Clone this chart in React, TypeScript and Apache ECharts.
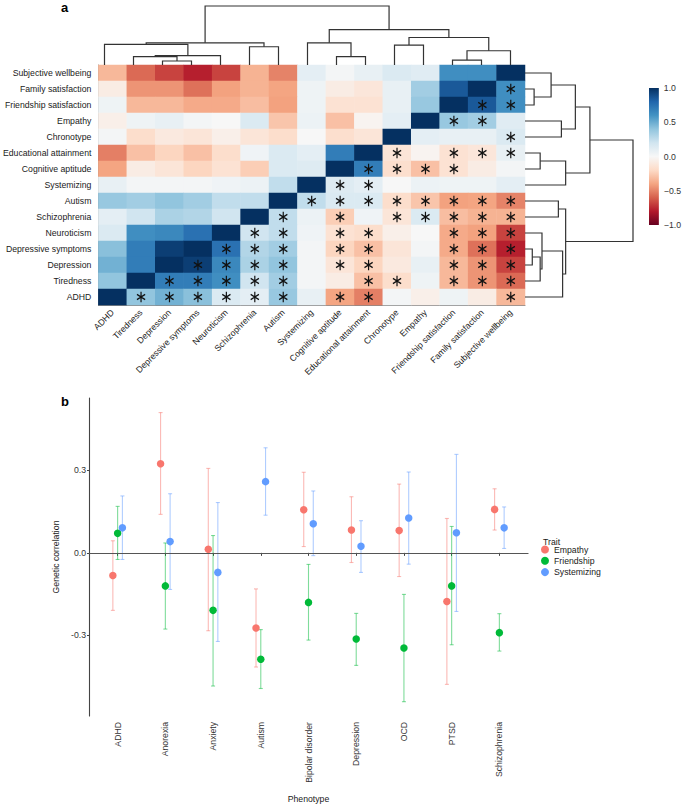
import React, { useEffect, useRef } from 'react';
import * as echarts from 'echarts';

// ---------- Panel a data ----------
const vars = [
  'ADHD', 'Tiredness', 'Depression', 'Depressive symptoms', 'Neuroticism', 'Schizophrenia', 'Autism',
  'Systemizing', 'Cognitive aptitude', 'Educational attainment', 'Chronotype', 'Empathy',
  'Friendship satisfaction', 'Family satisfaction', 'Subjective wellbeing',
];

// rows in display order (top = Subjective wellbeing ... bottom = ADHD); columns in `vars` order
const corrRows = [
  [-0.33, -0.57, -0.68, -0.78, -0.68, -0.35, -0.5, 0.1, 0.02, 0.08, 0.15, 0.12, 0.62, 0.62, 1],
  [-0.08, -0.45, -0.45, -0.55, -0.41, -0.35, -0.4, 0.05, -0.08, -0.12, 0.08, 0.35, 0.85, 1, 0.62],
  [0.05, -0.33, -0.33, -0.38, -0.38, -0.31, -0.41, 0.05, -0.15, -0.15, 0.08, 0.38, 1, 0.85, 0.62],
  [-0.06, 0.05, 0.08, 0.02, 0, 0.15, -0.28, 0.06, -0.3, -0.03, 0.1, 1, 0.38, 0.35, 0.12],
  [0.02, -0.18, -0.1, -0.13, -0.06, -0.13, -0.18, 0, -0.17, -0.13, 1, 0.1, 0.08, 0.08, 0.15],
  [-0.51, -0.3, -0.22, -0.3, -0.18, 0.04, 0.15, 0.1, 0.7, 1, -0.13, -0.03, -0.15, -0.12, 0.08],
  [-0.4, -0.08, -0.13, -0.22, -0.15, -0.25, 0.15, 0.13, 1, 0.7, -0.17, -0.3, -0.15, -0.08, 0.02],
  [0.08, 0.02, 0.02, 0.02, 0.04, 0.06, 0.25, 1, 0.13, 0.1, 0, 0.06, 0.05, 0.05, 0.1],
  [0.38, 0.35, 0.4, 0.35, 0.25, 0.25, 1, 0.25, 0.15, 0.15, -0.18, -0.28, -0.41, -0.4, -0.5],
  [0.1, 0.2, 0.32, 0.3, 0.2, 1, 0.25, 0.06, -0.25, 0.04, -0.13, 0.15, -0.31, -0.35, -0.35],
  [0.15, 0.62, 0.65, 0.75, 1, 0.2, 0.25, 0.04, -0.15, -0.18, -0.06, 0, -0.38, -0.41, -0.68],
  [0.42, 0.7, 0.95, 1, 0.75, 0.3, 0.35, 0.02, -0.22, -0.3, -0.13, 0.02, -0.38, -0.55, -0.78],
  [0.48, 0.7, 1, 0.95, 0.65, 0.32, 0.4, 0.02, -0.13, -0.22, -0.1, 0.08, -0.33, -0.45, -0.68],
  [0.4, 1, 0.7, 0.7, 0.62, 0.2, 0.35, 0.02, -0.08, -0.3, -0.18, 0.05, -0.33, -0.45, -0.57],
  [1, 0.4, 0.48, 0.42, 0.15, 0.1, 0.38, 0.08, -0.4, -0.51, 0.02, -0.06, 0.05, -0.08, -0.33],
];

// significant cells (asterisks): column indices per display row
const sigRows = [
  [],
  [14],
  [13, 14],
  [12, 13],
  [14],
  [10, 12, 13, 14],
  [9, 10, 11, 12],
  [8, 9],
  [7, 8, 9, 10, 11, 12, 13, 14],
  [6, 8, 10, 11, 12, 13, 14],
  [5, 6, 8, 9, 12, 13, 14],
  [4, 5, 6, 8, 9, 12, 13, 14],
  [3, 4, 5, 6, 8, 9, 12, 13, 14],
  [2, 3, 4, 5, 6, 9, 10, 12, 13, 14],
  [1, 2, 3, 4, 5, 6, 8, 9, 14],
];

// hierarchical clustering merges: [childA, childB, height]; leaves 0..14, merged nodes 15..
const merges = [
  [2, 3, 12],
  [12, 13, 15],
  [1, 15, 25],
  [8, 9, 25],
  [17, 4, 28],
  [16, 14, 43],
  [5, 6, 55],
  [10, 11, 60],
  [0, 19, 62],
  [23, 21, 67],
  [7, 18, 67],
  [22, 20, 83],
  [25, 26, 107],
  [24, 27, 178],
];
const treeMax = 178;

const colorbarTicks = [-1, -0.5, 0, 0.5, 1];
const rdbu = ['#67001f', '#b2182b', '#d6604d', '#f4a582', '#fddbc7', '#f7f7f7', '#d1e5f0', '#92c5de', '#4393c3', '#2166ac', '#053061'];

// ---------- Panel b data ----------
const phenotypes = ['ADHD', 'Anorexia', 'Anxiety', 'Autism', 'Bipolar disorder', 'Depression', 'OCD', 'PTSD', 'Schizophrenia'];
const traits = ['Empathy', 'Friendship', 'Systemizing'];
const empathyR = [-0.082, 0.324, 0.013, -0.273, 0.157, 0.083, 0.081, -0.177, 0.158];
const empathyLo = [-0.209, 0.14, -0.283, -0.415, 0.023, -0.035, -0.086, -0.478, 0.083];
const empathyHi = [0.044, 0.51, 0.307, -0.131, 0.293, 0.204, 0.25, 0.125, 0.233];
const friendR = [0.071, -0.12, -0.209, -0.387, -0.18, -0.313, -0.346, -0.12, -0.29];
const friendLo = [-0.024, -0.277, -0.484, -0.493, -0.317, -0.409, -0.541, -0.334, -0.357];
const friendHi = [0.169, 0.036, 0.063, -0.279, -0.042, -0.22, -0.151, 0.096, -0.221];
const sysR = [0.091, 0.041, -0.071, 0.259, 0.106, 0.024, 0.127, 0.073, 0.091];
const sysLo = [-0.024, -0.133, -0.322, 0.137, -0.01, -0.071, -0.041, -0.213, 0.016];
const sysHi = [0.207, 0.215, 0.183, 0.382, 0.225, 0.117, 0.294, 0.358, 0.167];
const yTicksB = [-0.3, 0, 0.3];

const FONT = 'Liberation Sans, Arial, Helvetica, sans-serif';
const traitColors = ['#F8766D', '#00BA38', '#619CFF'];
const traitBarColors = ['rgba(248,118,109,0.5)', 'rgba(0,186,56,0.5)', 'rgba(97,156,255,0.5)'];

function buildDendro() {
  const pos: number[] = vars.map((_, i) => i);
  const hgt: number[] = vars.map(() => 0);
  const segs: number[][] = [];
  merges.forEach(([a, b, h]) => {
    segs.push([pos[a], hgt[a], pos[b], hgt[b], h]);
    pos.push((pos[a] + pos[b]) / 2);
    hgt.push(h);
  });
  return segs;
}

function asteriskPath() {
  const L = 10, w = 1.25;
  let d = '';
  [90, 30, 150].forEach((deg) => {
    const t = (deg * Math.PI) / 180;
    const c = Math.cos(t), s = Math.sin(t);
    const px = -s, py = c;
    const pts = [
      [L * c + w * px, L * s + w * py],
      [L * c - w * px, L * s - w * py],
      [-L * c - w * px, -L * s - w * py],
      [-L * c + w * px, -L * s + w * py],
    ];
    d += 'M' + pts.map((p) => p[0].toFixed(3) + ' ' + p[1].toFixed(3)).join(' L') + ' Z ';
  });
  return 'path://' + d;
}

export default function App() {
  const ref = useRef<HTMLDivElement>(null);
  useEffect(() => {
    document.body.style.margin = '0';
    if (!ref.current) return;
    const chart = echarts.init(ref.current, null, { renderer: 'svg' });
    const n = vars.length;
    const heatData: any[] = [];
    corrRows.forEach((row, r) => row.forEach((v, c) => heatData.push([c, n - 1 - r, v])));
    const sigData: any[] = [];
    sigRows.forEach((cols, r) => cols.forEach((c) => sigData.push([c, n - 1 - r])));
    const segs = buildDendro();

    const dendroLine = (horizontal: boolean) => (params: any, api: any) => {
      const pA = api.value(0), hA = api.value(1), pB = api.value(2), hB = api.value(3), h = api.value(4);
      const pt = (p: number, hh: number) => (horizontal ? api.coord([p, hh]) : api.coord([hh, p]));
      return {
        type: 'polyline',
        shape: { points: [pt(pA, hA), pt(pA, h), pt(pB, h), pt(pB, hB)] },
        style: { stroke: '#333', fill: 'none', lineWidth: 1.2 },
      };
    };

    const traitR = [empathyR, friendR, sysR];
    const traitLo = [empathyLo, friendLo, sysLo];
    const traitHi = [empathyHi, friendHi, sysHi];
    const dodge = [-0.1, 0, 0.1];

    const errSeries = traits.map((t, k) => ({
      type: 'custom',
      name: t + ' CI',
      xAxisIndex: 4,
      yAxisIndex: 4,
      encode: { x: 0, y: [1, 2] },
      silent: true,
      data: phenotypes.map((_, i) => [i + 1 + dodge[k], traitLo[k][i], traitHi[k][i]]),
      renderItem: (params: any, api: any) => {
        const x = api.value(0), lo = api.value(1), hi = api.value(2);
        const a = api.coord([x, lo]), b = api.coord([x, hi]);
        const cw = 2;
        const st = { stroke: traitBarColors[k], lineWidth: 1.1 };
        return {
          type: 'group',
          children: [
            { type: 'line', shape: { x1: a[0], y1: a[1], x2: b[0], y2: b[1] }, style: st },
            { type: 'line', shape: { x1: a[0] - cw, y1: a[1], x2: a[0] + cw, y2: a[1] }, style: st },
            { type: 'line', shape: { x1: b[0] - cw, y1: b[1], x2: b[0] + cw, y2: b[1] }, style: st },
          ],
        };
      },
    }));

    const pointSeries = traits.map((t, k) => ({
      type: 'scatter',
      name: t,
      xAxisIndex: 4,
      yAxisIndex: 4,
      symbol: 'circle',
      symbolSize: 7.5,
      itemStyle: { color: traitColors[k], opacity: 1 },
      data: phenotypes.map((_, i) => [i + 1 + dodge[k], traitR[k][i]]),
      ...(k === 0
        ? {
            markLine: {
              silent: true,
              symbol: 'none',
              label: { show: false },
              lineStyle: { color: '#555', type: 'solid', width: 1.1 },
              data: [{ yAxis: 0 }],
            },
          }
        : {}),
    }));

    const axisTxt = { fontFamily: FONT, fontSize: 8.7, color: '#1a1a1a' };

    chart.setOption({
      animation: false,
      backgroundColor: '#ffffff',
      textStyle: { fontFamily: FONT },
      title: [
        { text: 'a', left: 56, top: -4, textStyle: { fontFamily: FONT, fontSize: 13, fontWeight: 'bold', color: '#000' } },
        { text: 'b', left: 56, top: 390, textStyle: { fontFamily: FONT, fontSize: 13, fontWeight: 'bold', color: '#000' } },
        { text: 'Trait', left: 538, top: 532, textStyle: { fontFamily: FONT, fontSize: 8.7, fontWeight: 'normal', color: '#1a1a1a' } },
      ],
      legend: {
        data: traits,
        orient: 'vertical',
        left: 541,
        top: 545,
        itemWidth: 8,
        itemHeight: 8,
        itemGap: 2.3,
        icon: 'circle',
        padding: 0,
        textStyle: { fontFamily: FONT, fontSize: 8.7, color: '#1a1a1a', lineHeight: 9 },
      },
      visualMap: {
        show: false,
        type: 'continuous',
        min: -1,
        max: 1,
        dimension: 2,
        seriesIndex: 0,
        inRange: { color: rdbu },
      },
      grid: [
        { left: 90, top: 65, width: 435, height: 240 },
        { left: 90, top: 6, width: 435, height: 59 },
        { left: 525, top: 65, width: 108, height: 240 },
        { left: 649, top: 88, width: 14, height: 137 },
        { left: 89, top: 398, width: 439, height: 318 },
      ],
      xAxis: [
        {
          gridIndex: 0,
          type: 'category',
          data: vars,
          axisLine: { lineStyle: { color: '#888', width: 1 } },
          axisTick: { alignWithLabel: true, length: 4, lineStyle: { color: '#888' } },
          axisLabel: { ...axisTxt, rotate: 45, interval: 0, margin: 6 },
          splitLine: { show: false },
        },
        { gridIndex: 1, type: 'value', min: -0.5, max: 14.5, show: false },
        { gridIndex: 2, type: 'value', min: 0, max: treeMax, show: false },
        { gridIndex: 3, type: 'value', min: 0, max: 1, show: false },
        {
          gridIndex: 4,
          type: 'value',
          min: 0.4,
          max: 9.6,
          name: 'Phenotype',
          nameLocation: 'middle',
          nameGap: 78,
          nameTextStyle: { fontFamily: FONT, fontSize: 8.7, color: '#1a1a1a' },
          axisLine: { lineStyle: { color: '#444', width: 1.1 } },
          axisTick: { customValues: phenotypes.map((_, i) => i + 1), length: 3, lineStyle: { color: '#444' } },
          axisLabel: {
            ...axisTxt,
            color: '#333',
            rotate: 90,
            margin: 6,
            customValues: phenotypes.map((_, i) => i + 1),
            formatter: (v: number) => phenotypes[Math.round(v) - 1] || '',
          },
          splitLine: { show: false },
        },
      ],
      yAxis: [
        {
          gridIndex: 0,
          type: 'category',
          data: vars,
          axisLine: { lineStyle: { color: '#888', width: 1 } },
          axisTick: { alignWithLabel: true, length: 4, lineStyle: { color: '#888' } },
          axisLabel: { ...axisTxt, interval: 0, margin: 7 },
          splitLine: { show: false },
        },
        { gridIndex: 1, type: 'value', min: 0, max: treeMax, show: false },
        { gridIndex: 2, type: 'value', min: -0.5, max: 14.5, show: false },
        {
          gridIndex: 3,
          type: 'value',
          min: -1,
          max: 1,
          interval: 0.5,
          position: 'right',
          axisLine: { show: false },
          axisTick: { show: false },
          splitLine: { show: false },
          axisLabel: {
            ...axisTxt,
            color: '#333',
            margin: 5,
            formatter: (v: number) => (v < 0 ? '\u2212' : '') + Math.abs(v).toFixed(1),
          },
        },
        {
          gridIndex: 4,
          type: 'value',
          min: -0.593,
          max: 0.563,
          name: 'Genetic correlation',
          nameLocation: 'middle',
          nameGap: 24,
          nameTextStyle: { fontFamily: FONT, fontSize: 8.7, color: '#1a1a1a' },
          axisLine: { show: true, lineStyle: { color: '#444', width: 1.1 } },
          axisTick: { show: true, customValues: yTicksB, length: 2, lineStyle: { color: '#444' } },
          axisLabel: {
            ...axisTxt,
            color: '#333',
            margin: 3,
            customValues: yTicksB,
            formatter: (v: number) => v.toFixed(1),
          },
          splitLine: { show: false },
        },
      ],
      series: [
        {
          type: 'heatmap',
          xAxisIndex: 0,
          yAxisIndex: 0,
          data: heatData,
          silent: true,
          itemStyle: { borderWidth: 0 },
          emphasis: { disabled: true },
        },
        {
          type: 'scatter',
          name: 'sig',
          xAxisIndex: 0,
          yAxisIndex: 0,
          silent: true,
          symbol: asteriskPath(),
          symbolKeepAspect: true,
          symbolSize: [9.5, 10.5],
          itemStyle: { color: '#111', opacity: 1 },
          data: sigData,
          z: 5,
        },
        {
          type: 'custom',
          name: 'colTree',
          xAxisIndex: 1,
          yAxisIndex: 1,
          silent: true,
          encode: { x: 0, y: 1 },
          data: segs,
          renderItem: dendroLine(true),
        },
        {
          type: 'custom',
          name: 'rowTree',
          xAxisIndex: 2,
          yAxisIndex: 2,
          silent: true,
          encode: { x: 1, y: 0 },
          data: segs,
          renderItem: dendroLine(false),
        },
        {
          type: 'custom',
          name: 'colorbar',
          xAxisIndex: 3,
          yAxisIndex: 3,
          silent: true,
          encode: { x: 0, y: 1 },
          data: [[0, colorbarTicks[0], 1, colorbarTicks[colorbarTicks.length - 1]]],
          renderItem: (params: any, api: any) => {
            const p1 = api.coord([api.value(0), api.value(3)]);
            const p2 = api.coord([api.value(2), api.value(1)]);
            const stops = rdbu
              .slice()
              .reverse()
              .map((c, i) => ({ offset: i / (rdbu.length - 1), color: c }));
            return {
              type: 'rect',
              shape: { x: p1[0], y: p1[1], width: p2[0] - p1[0], height: p2[1] - p1[1] },
              style: { fill: new echarts.graphic.LinearGradient(0, 0, 0, 1, stops) },
            };
          },
        },
        ...errSeries,
        ...pointSeries,
      ],
    });
    return () => chart.dispose();
  }, []);
  return <div ref={ref} style={{ width: 684, height: 805 }} />;
}
